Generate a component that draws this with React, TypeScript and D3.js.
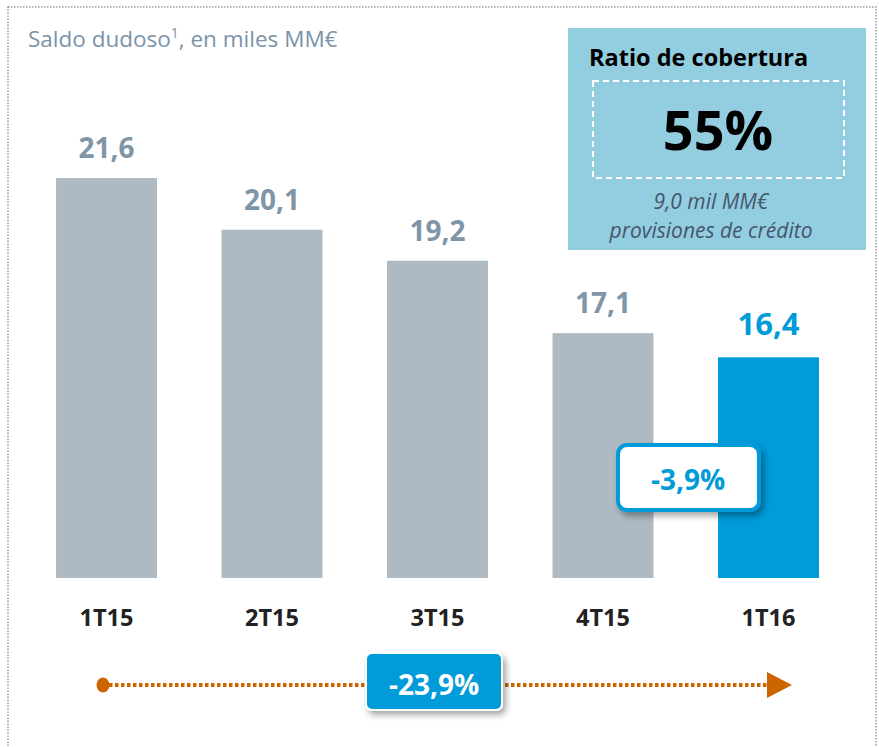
import React from 'react';
import * as d3 from 'd3';

const quarters = ['1T15', '2T15', '3T15', '4T15', '1T16'];
const balances = [21.6, 20.1, 19.2, 17.1, 16.4];
const balanceLabels = ['21,6', '20,1', '19,2', '17,1', '16,4'];
const coverageRatio = '55%';
const provisionLines = ['9,0 mil MM€', 'provisiones de crédito'];
const quarterChange = '-3,9%';
const yearChange = '-23,9%';

const W = 879, H = 747;
const FONT = "'Open Sans', 'Noto Sans', sans-serif";
const GREY_BAR = '#adbac2';
const BLUE = '#009bd8';
const GREY_TXT = '#7f95a8';
const ORANGE = '#cc6500';

export default function App() {
  const x = d3.scaleBand<string>()
    .domain(quarters)
    .range([23.75, 851.25])
    .paddingInner(0.39)
    .paddingOuter(0.195);

  // bars start from 10, not zero
  const y = d3.scaleLinear().domain([10, 21.6]).range([578, 178]);

  const last = quarters.length - 1;

  return (
    <svg width={W} height={H} style={{ display: 'block', position: 'absolute', left: 0, top: 0 }}>
      <defs>
        <filter id="shadow" x="-20%" y="-20%" width="150%" height="160%">
          <feDropShadow dx="3" dy="4" stdDeviation="3" floodColor="#000" floodOpacity="0.35" />
        </filter>
      </defs>
      <rect x={0} y={0} width={W} height={H} fill="#fff" />
      <rect x={8} y={7} width={868} height={760} fill="none" stroke="#9a9a9a"
        strokeWidth={1.5} strokeDasharray="1.5,1.5" />

      <text x={28} y={47} fontFamily={FONT} fontSize={22.5} fill="#7a93a8">
        Saldo dudoso<tspan fontSize={14} dy={-9}>1</tspan><tspan dy={9}>, en miles MM€</tspan>
      </text>

      {/* coverage box */}
      <rect x={568} y={28} width={298} height={222} fill="#93cde0" />
      <text x={589} y={66} fontFamily={FONT} fontSize={23.5} fontWeight={700} fill="#000">Ratio de cobertura</text>
      <rect x={593} y={81} width={251} height={97} fill="none" stroke="#fff" strokeWidth={2} strokeDasharray="6,4" />
      <text x={718} y={150} textAnchor="middle" fontFamily={FONT} fontSize={54} fontWeight={700} fill="#000">{coverageRatio}</text>
      {provisionLines.map((l, i) => (
        <text key={l} x={711} y={209 + i * 29} textAnchor="middle" fontFamily={FONT} fontSize={21}
          fontStyle="italic" fill="#46566b">{l}</text>
      ))}

      {/* bars */}
      {quarters.map((q, i) => {
        const bx = x(q)!;
        const cx = bx + x.bandwidth() / 2;
        const isLast = i === last;
        return (
          <g key={q}>
            <rect x={bx} y={y(balances[i])} width={x.bandwidth()} height={y(10) - y(balances[i])}
              fill={isLast ? BLUE : GREY_BAR} />
            <text x={cx} y={y(balances[i]) - (isLast ? 22 : 20)} textAnchor="middle" fontFamily={FONT}
              fontWeight={700} fontSize={isLast ? 31 : 28} fill={isLast ? BLUE : GREY_TXT}>
              {balanceLabels[i]}
            </text>
            <text x={cx} y={626} textAnchor="middle" fontFamily={FONT} fontWeight={700} fontSize={23.5} fill="#222">
              {q}
            </text>
          </g>
        );
      })}

      {/* quarter change callout */}
      <rect x={618} y={445} width={141} height={65} rx={9} fill="#fff" stroke={BLUE} strokeWidth={4}
        filter="url(#shadow)" />
      <text x={688} y={490} textAnchor="middle" fontFamily={FONT} fontWeight={700} fontSize={28} fill={BLUE}>
        {quarterChange}
      </text>

      {/* year change arrow */}
      <line x1={103} x2={770} y1={685} y2={685} stroke={ORANGE} strokeWidth={4} strokeDasharray="3.5,2.5" />
      <ellipse cx={103} cy={685} rx={6.5} ry={7.5} fill={ORANGE} />
      <path d="M767,672 L792,685 L767,698 Z" fill={ORANGE} />
      <rect x={366} y={653} width={136} height={57} rx={6} fill={BLUE} stroke="#fff" strokeWidth={2}
        filter="url(#shadow)" />
      <text x={434} y={695} textAnchor="middle" fontFamily={FONT} fontWeight={700} fontSize={28} fill="#fff">
        {yearChange}
      </text>
    </svg>
  );
}
